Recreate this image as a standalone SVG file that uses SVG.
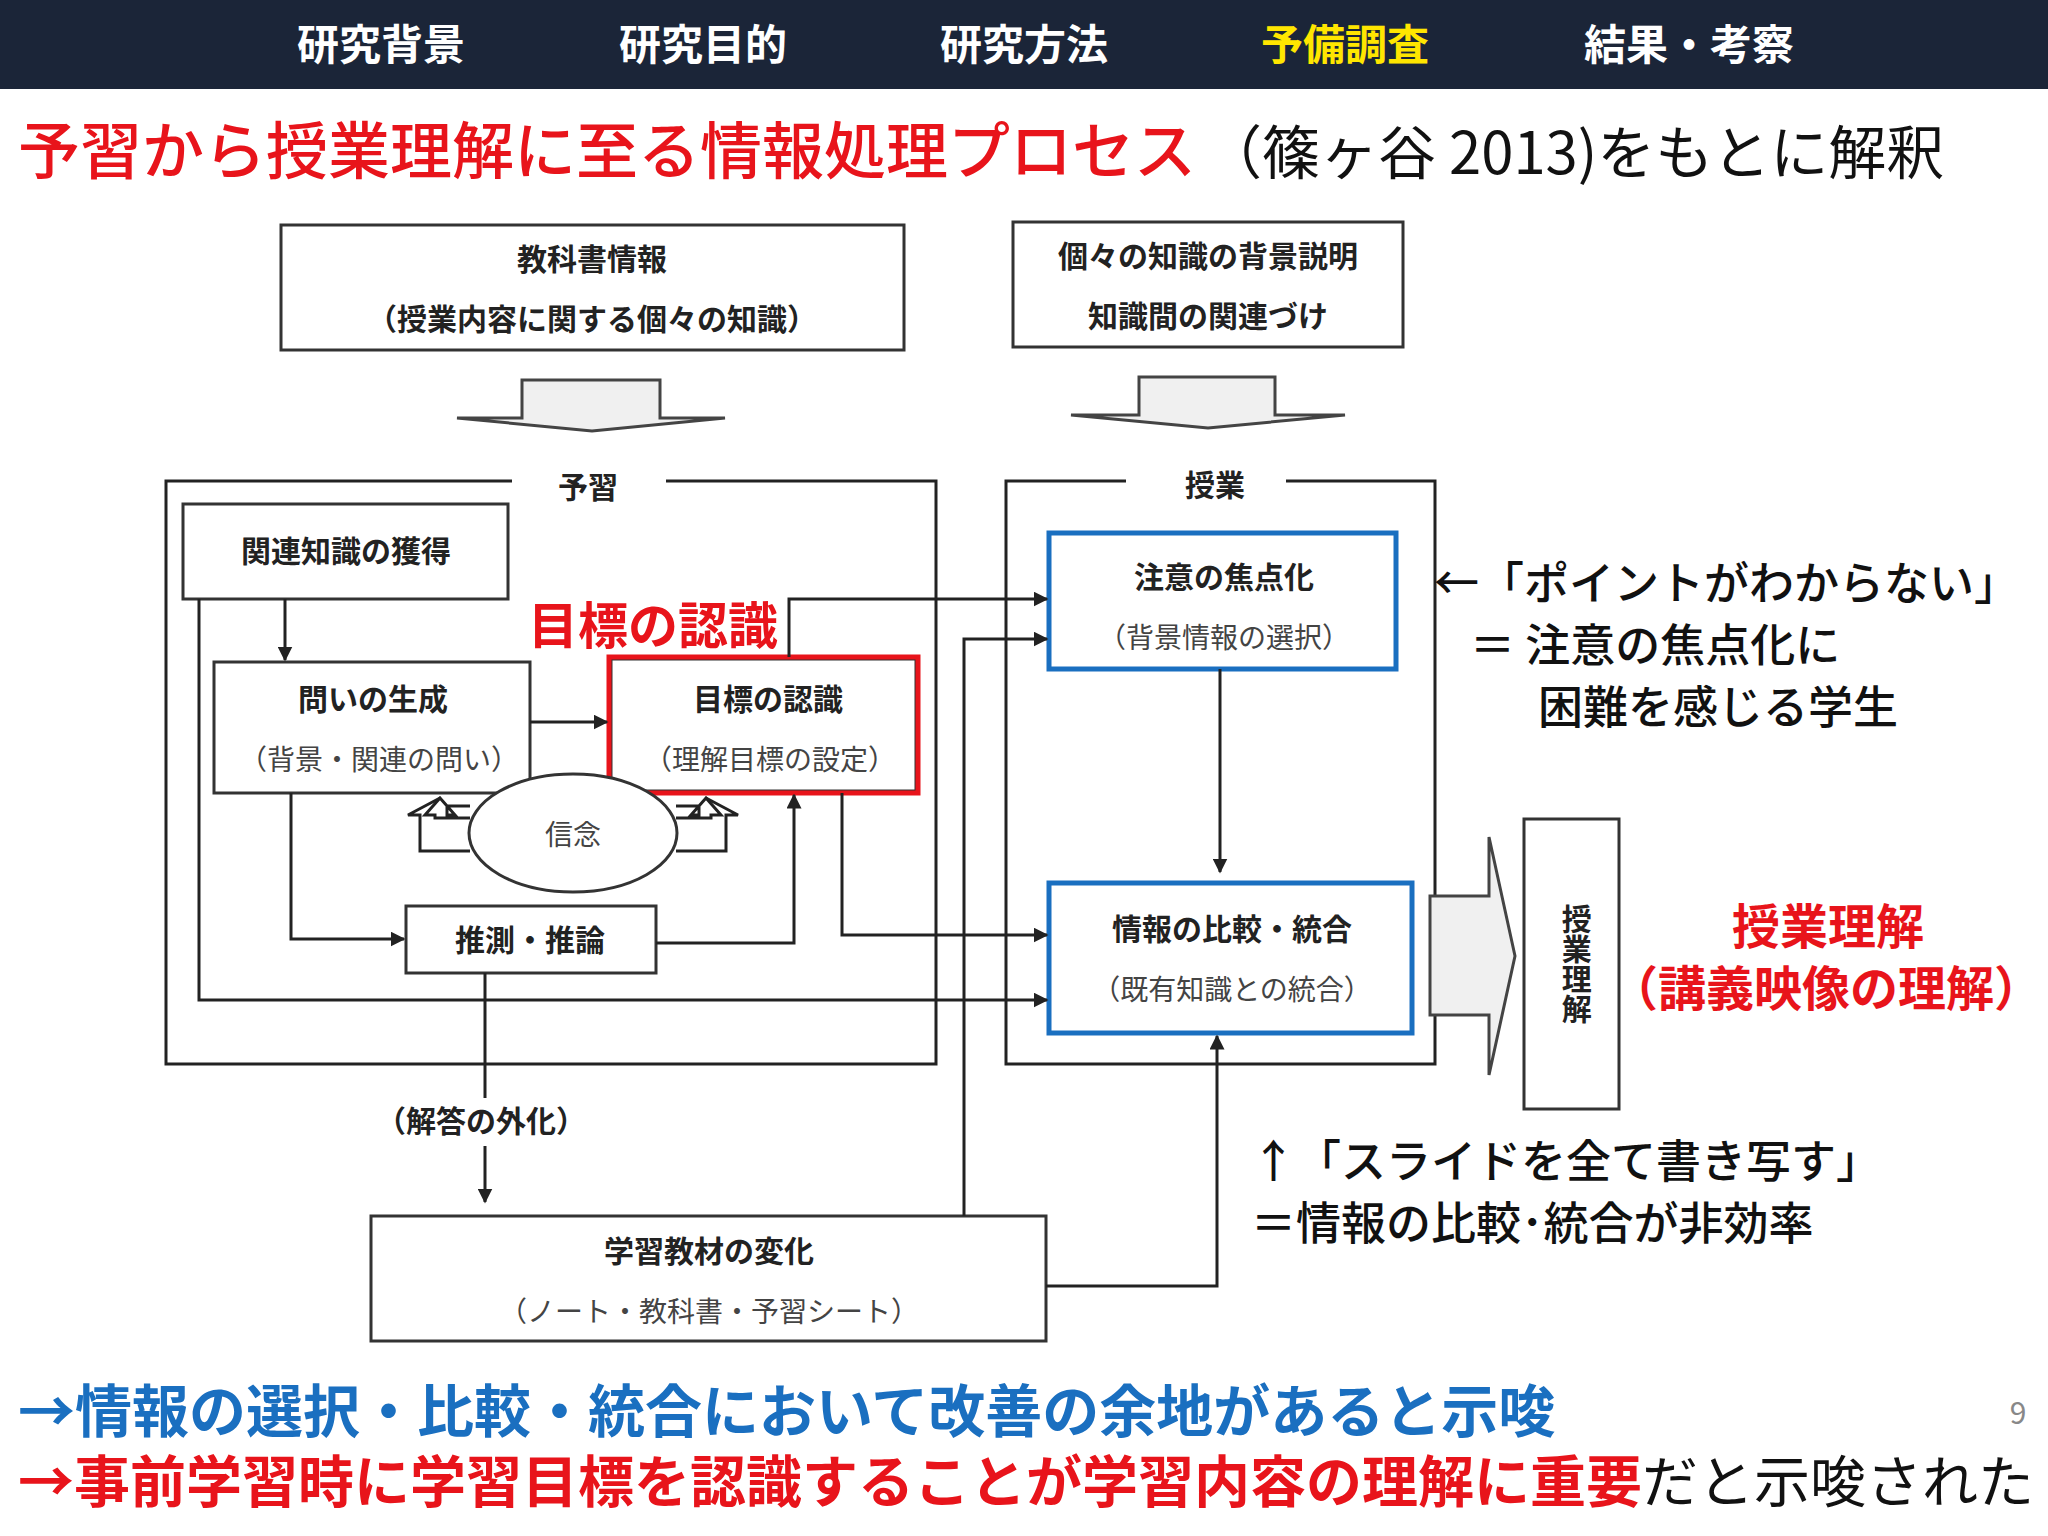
<svg xmlns="http://www.w3.org/2000/svg" width="2048" height="1536" viewBox="0 0 2048 1536">
<style>
text{font-family:"Noto Sans CJK JP","Noto Sans",sans-serif}
.nav{fill:#fff;font-size:42px;font-weight:700;text-anchor:middle}
.b{fill:#222;font-size:30px;font-weight:700;text-anchor:middle}
.s{fill:#444;font-size:28px;text-anchor:middle}
.box{fill:#fff;stroke:#333;stroke-width:3}
.blue{fill:#fff;stroke:#1a6fc0;stroke-width:5}
.ln{fill:none;stroke:#222;stroke-width:3}
.ann{fill:#111;font-size:45px;font-weight:500}
</style>
<defs>
<marker id="ah" viewBox="0 0 10 10" refX="9" refY="5" markerWidth="5" markerHeight="5" orient="auto"><path d="M0,0L10,5L0,10z" fill="#222"/></marker>
</defs>
<rect width="2048" height="1536" fill="#fff"/>
<g id="header">
<rect x="0" y="0" width="2048" height="89" fill="#1b2538"/>
<text class="nav" x="381" y="60">研究背景</text>
<text class="nav" x="703" y="60">研究目的</text>
<text class="nav" x="1024" y="60">研究方法</text>
<text class="nav" x="1345" y="60" style="fill:#ffe600">予備調査</text>
<text class="nav" x="1689" y="60">結果・考察</text>
</g>
<g id="title">
<text x="18" y="174" font-size="62" fill="#e8141b" font-weight="500">予習から授業理解に至る情報処理プロセス<tspan fill="#111" font-weight="400" font-size="58" dx="8">（篠ヶ谷 2013)をもとに解釈</tspan></text>
</g>
<g id="frames">
<path class="ln" d="M512,481H166V1064H936V481H666"/>
<text class="b" x="588" y="498" font-size="36">予習</text>
<path class="ln" d="M1126,481H1006V1064H1435V481H1286"/>
<text class="b" x="1215" y="496" font-size="36">授業</text>
</g>
<g id="n_textbook"><rect class="box" x="281" y="225" width="623" height="125"/>
<text class="b" x="592" y="270">教科書情報</text><text class="b" x="592" y="330">（授業内容に関する個々の知識）</text></g>
<g id="n_bg"><rect class="box" x="1013" y="222" width="390" height="125"/>
<text class="b" x="1208" y="267">個々の知識の背景説明</text><text class="b" x="1208" y="327">知識間の関連づけ</text></g>
<g id="blockarrows" fill="#f0f0f0" stroke="#444" stroke-width="3">
<path d="M522,418V380H660V418H725L592,431L457,418Z"/>
<path d="M1139,415V377H1275V415H1345L1208,428L1071,415Z"/>
</g>
<g id="n_kanren"><rect class="box" x="183" y="504" width="325" height="95"/><text class="b" x="346" y="562">関連知識の獲得</text></g>
<g id="n_toi"><rect class="box" x="214" y="662" width="316" height="131"/>
<text class="b" x="373" y="710">問いの生成</text><text class="s" x="379" y="770">（背景・関連の問い）</text></g>
<g id="n_goal"><rect class="box" x="611" y="659" width="305" height="132"/>
<rect x="609" y="657" width="309" height="136" fill="none" stroke="#e8141b" stroke-width="5"/>
<text class="b" x="768" y="710">目標の認識</text><text class="s" x="770" y="770">（理解目標の設定）</text></g>
<text x="653" y="644" font-size="50" font-weight="700" fill="#e8141b" text-anchor="middle">目標の認識</text>
<g id="n_belief">
<path class="ln" d="M470,818H435V815H425L440,798L455,815H447V806H470" stroke-width="2.5"/>
<path class="ln" d="M470,851H420V815H408L440,798" stroke-width="2.5"/>
<path class="ln" d="M676,818H711V815H721L706,798L691,815H699V806H676" stroke-width="2.5"/>
<path class="ln" d="M676,851H726V815H738L706,798" stroke-width="2.5"/>
<ellipse cx="573" cy="833" rx="104" ry="59" fill="#fff" stroke="#333" stroke-width="3"/>
<text class="s" x="573" y="845" font-size="32">信念</text></g>
<g id="n_suisoku"><rect class="box" x="406" y="906" width="250" height="67"/><text class="b" x="530" y="951">推測・推論</text></g>
<g id="n_material"><rect class="box" x="371" y="1216" width="675" height="125"/>
<text class="b" x="709" y="1262">学習教材の変化</text><text class="s" x="709" y="1322">（ノート・教科書・予習シート）</text></g>
<g id="n_focus"><rect class="blue" x="1049" y="533" width="347" height="136"/>
<text class="b" x="1224" y="588">注意の焦点化</text><text class="s" x="1224" y="648">（背景情報の選択）</text></g>
<g id="n_integrate"><rect class="blue" x="1049" y="883" width="363" height="150"/>
<text class="b" x="1232" y="940">情報の比較・統合</text><text class="s" x="1232" y="1000">（既有知識との統合）</text></g>
<g id="n_understand"><rect class="box" x="1524" y="819" width="95" height="290"/>
<text class="b" x="1572" y="964" style="writing-mode:vertical-rl" dominant-baseline="middle">授業理解</text></g>
<g id="bigarrow"><path d="M1430,896H1489V837L1515,956L1489,1075V1015H1430Z" fill="#f0f0f0" stroke="#444" stroke-width="3"/></g>
<g id="connectors">
<path class="ln" d="M285,599V660" marker-end="url(#ah)"/>
<path class="ln" d="M530,722H607" marker-end="url(#ah)"/>
<path class="ln" d="M291,793V939H404" marker-end="url(#ah)"/>
<path class="ln" d="M656,943H794V795" marker-end="url(#ah)"/>
<path class="ln" d="M199,599V1000H1047" marker-end="url(#ah)"/>
<path class="ln" d="M789,657V599H1047" marker-end="url(#ah)"/>
<path class="ln" d="M842,793V935H1047" marker-end="url(#ah)"/>
<path class="ln" d="M485,973V1098M485,1146V1202" marker-end="url(#ah)"/>
<path class="ln" d="M964,1216V639H1047" marker-end="url(#ah)"/>
<path class="ln" d="M1046,1286H1217V1036" marker-end="url(#ah)"/>
<path class="ln" d="M1220,669V872" marker-end="url(#ah)"/>
</g>
<text class="b" x="481" y="1132">（解答の外化）</text>
<g id="annotations">
<text class="ann" x="1434" y="600">←「ポイントがわからない」</text>
<text class="ann" x="1470" y="662">＝ 注意の焦点化に</text>
<text class="ann" x="1538" y="724">困難を感じる学生</text>
<text class="ann" x="1251" y="1178">↑「スライドを全て書き写す」</text>
<text class="ann" x="1251" y="1240">＝情報の比較･統合が非効率</text>
<text x="1828" y="944" font-size="48" font-weight="700" fill="#e8141b" text-anchor="middle">授業理解</text>
<text x="1826" y="1006" font-size="48" font-weight="700" fill="#e8141b" text-anchor="middle">（講義映像の理解）</text>
</g>
<g id="conclusion">
<text x="18" y="1432" font-size="57" font-weight="700" fill="#1a6fc0">→情報の選択・比較・統合において改善の余地があると示唆</text>
<text x="18" y="1502" font-size="56" font-weight="700" fill="#e8141b">→事前学習時に学習目標を認識することが学習内容の理解に重要<tspan fill="#111" font-weight="400">だと示唆された</tspan></text>
<text x="2018" y="1424" font-size="30" fill="#888" text-anchor="middle" font-family="Liberation Sans,sans-serif">9</text>
</g>
</svg>
